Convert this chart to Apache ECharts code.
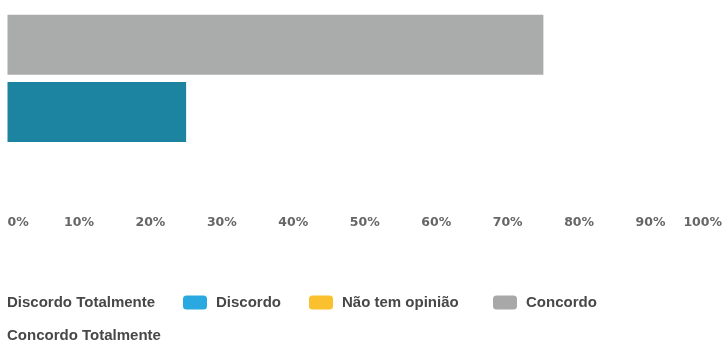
<!DOCTYPE html>
<html>
<head>
<meta charset="utf-8">
<script src="https://cdn.jsdelivr.net/npm/echarts@6/dist/echarts.min.js"></script>
<style>
  html, body { margin: 0; padding: 0; background: #fff; }
  #chart { width: 725px; height: 345px; }
</style>
</head>
<body>
<div id="chart"></div>
<script>
// Answer rows (top to bottom); the third slot is left empty
const categories = ['Concordo', 'Discordo', ''];

// Series names, in legend order
const seriesNames = ['Discordo Totalmente', 'Discordo', 'Não tem opinião', 'Concordo', 'Concordo Totalmente'];

// Percentages per row for each series ('-' = no bar)
const discordoTotalmente = ['-', '-', '-'];
const discordo = ['-', 25, '-'];
const naoTemOpiniao = ['-', '-', '-'];
const concordo = [75, '-', '-'];
const concordoTotalmente = ['-', '-', '-'];

// Axis tick values
const tickValues = [0, 10, 20, 30, 40, 50, 60, 70, 80, 90, 100];

const seriesData = [discordoTotalmente, discordo, naoTemOpiniao, concordo, concordoTotalmente];
const barColors = ['#ffffff', '#1c84a0', '#fbc02d', '#a9acab', '#ffffff'];
const legendColors = ['#ffffff', '#29a9df', '#fbc02d', '#a8a8a8', '#ffffff'];

const chart = echarts.init(document.getElementById('chart'), null, { renderer: 'canvas' });

const legendText = {
  fontFamily: 'Liberation Sans',
  fontWeight: 'bold',
  fontSize: 15,
  color: '#474747'
};

function legendAt(idx, left, top, withIcon) {
  return {
    data: [{ name: seriesNames[idx], itemStyle: { color: legendColors[idx] } }],
    left: left,
    top: top,
    padding: 0,
    selectedMode: false,
    icon: 'roundRect',
    itemWidth: withIcon ? 24 : 0,
    itemHeight: 14,
    textStyle: Object.assign({}, legendText, { padding: withIcon ? [0, 0, 0, 4] : 0 })
  };
}

chart.setOption({
  animation: false,
  grid: { left: 7.5, right: 2.5, top: 11, bottom: 132 },
  xAxis: {
    type: 'value',
    min: tickValues[0],
    max: tickValues[tickValues.length - 1],
    interval: tickValues[1] - tickValues[0],
    axisLine: { show: false },
    axisTick: { show: false },
    splitLine: { show: false },
    axisLabel: {
      formatter: '{value}%',
      margin: 3,
      alignMinLabel: 'left',
      alignMaxLabel: 'right',
      fontFamily: 'DejaVu Sans',
      fontWeight: 'bold',
      fontSize: 12.5,
      color: '#666666'
    }
  },
  yAxis: {
    type: 'category',
    inverse: true,
    data: categories,
    axisLine: { show: false },
    axisTick: { show: false },
    axisLabel: { show: false },
    splitLine: { show: false }
  },
  legend: [
    legendAt(0, 2, 295, false),
    legendAt(1, 183, 295, true),
    legendAt(2, 309, 295, true),
    legendAt(3, 493, 295, true),
    legendAt(4, 2, 328, false)
  ],
  series: seriesNames.map((name, i) => ({
    name: name,
    type: 'bar',
    data: seriesData[i],
    barWidth: 60,
    barGap: '-100%',
    itemStyle: { color: barColors[i] }
  }))
});
</script>
</body>
</html>
